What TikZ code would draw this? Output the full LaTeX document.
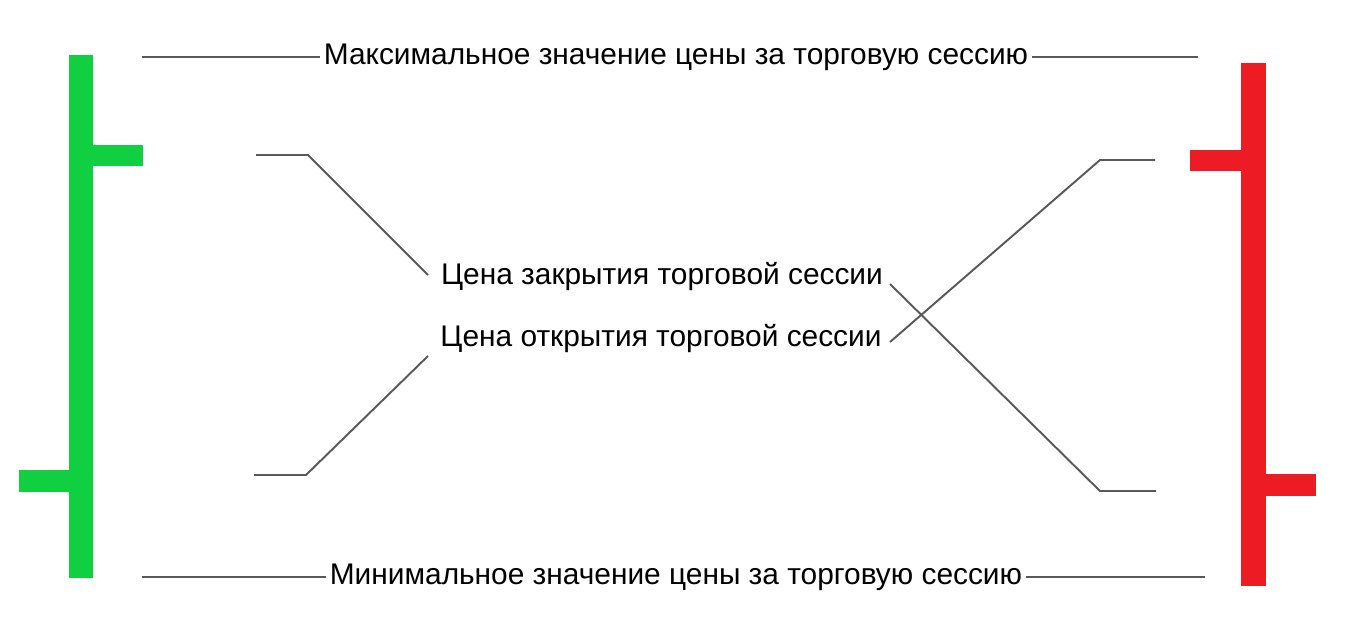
\documentclass[tikz,border=0pt]{standalone}
\usepackage{fontspec}
\setmainfont{Liberation Sans}
\definecolor{upgreen}{RGB}{16,208,66}
\definecolor{downred}{RGB}{237,28,36}
\tikzset{
  lbl/.style={font=\fontsize{17}{20}\selectfont, inner sep=2pt},
  lead/.style={draw=black!65, line width=1.1pt}
}
\begin{document}
\begin{tikzpicture}[x=0.02cm, y=-0.02cm]
    \useasboundingbox (0,0) rectangle (1350,629);
    % candles
    \fill[upgreen] (69,55) rectangle (93,578);
    \fill[upgreen] (93,145) rectangle (143,166);
    \fill[upgreen] (19,470) rectangle (69,492);
    \fill[downred] (1241,63) rectangle (1266,586);
    \fill[downred] (1190,150) rectangle (1241,171);
    \fill[downred] (1266,474) rectangle (1316,496);

    % labels
    \node[lbl] (max)   at (676,57)  {Максимальное значение цены за торговую сессию};
    \node[lbl] (min)   at (676,577) {Минимальное значение цены за торговую сессию};
    \node[lbl] (close) at (662,277) {Цена закрытия торговой сессии};
    \node[lbl] (open)  at (661,339) {Цена открытия торговой сессии};

    % free ends
    \coordinate (maxL) at (142,57);   \coordinate (maxR) at (1198,57);
    \coordinate (minL) at (142,577);  \coordinate (minR) at (1205,577);
    \coordinate (gC) at (256,155);    \coordinate (gO) at (254,475);
    \coordinate (rC) at (1156,491);   \coordinate (rO) at (1155,160);

    %%%%% leads %%%%%
    \draw[lead] (maxL) -- (max.west);
    \draw[lead] (max.east) -- (maxR);
    \draw[lead] (minL) -- (min.west);
    \draw[lead] (min.east) -- (minR);

    \draw[lead] (gC) -- (308,155) -- (428,275);
    \draw[lead] (gO) -- (306,475) -- (428,356);

    \draw[lead] (890,284) -- (1100,491) -- (rC);
    \draw[lead] (890,342) -- (1100,160) -- (rO);
\end{tikzpicture}
\end{document}
